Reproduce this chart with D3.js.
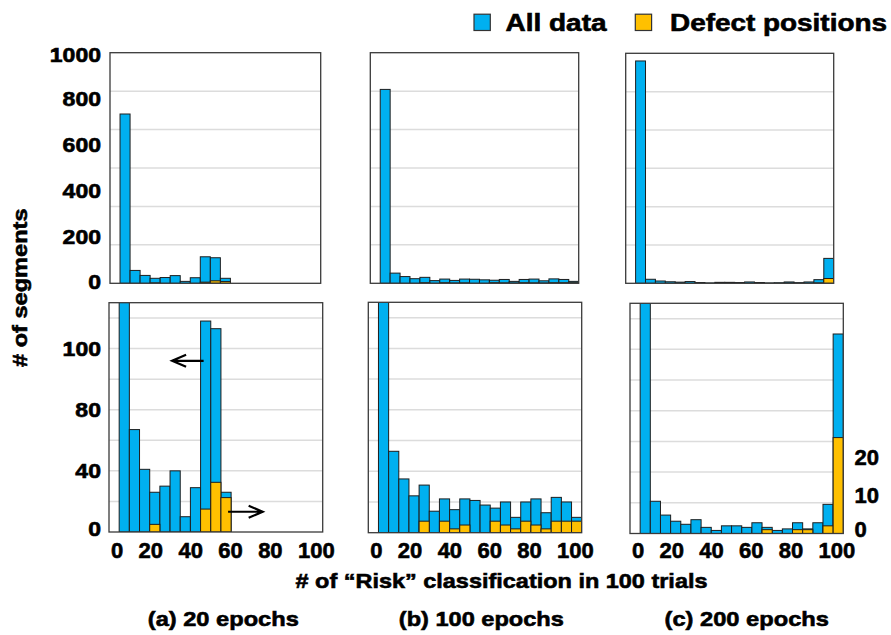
<!DOCTYPE html>
<html>
<head>
<meta charset="utf-8">
<script src="https://cdn.jsdelivr.net/npm/d3@7"></script>
<style>
  html, body { margin: 0; padding: 0; background: #fff; }
  svg { display: block; font-family: "Liberation Sans", Arial, sans-serif; font-weight: bold; }
  svg text { fill: #000; stroke: #000; stroke-width: 0.6px; }
</style>
</head>
<body>
<svg id="chart" width="891" height="635"></svg>
<script>
// 5-wide bins of the number of "Risk" classifications in 100 trials
const binStarts = d3.range(0, 100, 5);
const binWidth = 5;

// Segment counts per bin (all data) and defect positions per bin
const allData20   = [881, 67, 41, 26, 30, 40, 10, 29, 138, 133, 26, 0, 0, 0, 0, 0, 0, 0, 0, 0];
const defects20   = [0, 0, 0, 2, 0, 0, 0, 0, 6, 13, 9, 0, 0, 0, 0, 0, 0, 0, 0, 0];
const allData100  = [1009, 53, 35, 24, 31, 14, 22, 15, 22, 21, 18, 16, 20, 10, 20, 22, 13, 23, 20, 10];
const defects100  = [0, 0, 0, 0, 3, 0, 3, 1, 2, 0, 0, 3, 2, 1, 3, 2, 1, 3, 3, 3];
const allData200  = [1160, 21, 12, 8, 6, 9, 4, 2, 5, 5, 4, 7, 4, 2, 3, 7, 3, 7, 19, 130];
const defects200  = [0, 0, 0, 0, 0, 0, 0, 0, 0, 0, 0, 0, 1, 0, 0, 1, 1, 0, 2, 25];

const epochLabels = ["(a) 20 epochs", "(b) 100 epochs", "(c) 200 epochs"];
const seriesNames = ["All data", "Defect positions"];

// Axis tick labels
const xTickLabels = ["0", "20", "40", "60", "80", "100"];
const topTickLabels = ["0", "200", "400", "600", "800", "1000"];
const bottomTickValues = [0, 40, 80, 120];
const bottomTickLabels = ["0", "40", "80", "100"];
const defectTickValues = [0, 10, 20];

const BLUE = "#00b0f0", YELLOW = "#ffc000", EDGE = "#1e1e1e", GRID = "#dcdcdc";

const svg = d3.select("#chart");

// Panel frames: top row is the full range, bottom row is the zoomed view
const topFrames = [
  { x0: 110,   x1: 320.7, y0: 52.7, y1: 283.3 },
  { x0: 370.3, x1: 578.7, y0: 52.7, y1: 283.3 },
  { x0: 625.7, x1: 833.7, y0: 53.3, y1: 283.3 }
];
const bottomFrames = [
  { x0: 109,   x1: 322.7, y0: 302.7, y1: 532 },
  { x0: 368.3, x1: 581.7, y0: 302.3, y1: 532.7 },
  { x0: 630,   x1: 843.3, y0: 303.3, y1: 533.5 }
];

const columns = [
  { all: allData20,  def: defects20 },
  { all: allData100, def: defects100 },
  { all: allData200, def: defects200 }
];

function stretch(sel, factor) {
  sel.each(function () {
    const w = this.getComputedTextLength();
    d3.select(this).attr("textLength", w * factor).attr("lengthAdjust", "spacingAndGlyphs");
  });
}

function drawPanel(f, all, def, yAll, yDef, gridValues, key) {
  const x = d3.scaleLinear().domain([-binWidth, 100]).range([f.x0, f.x1]);
  const g = svg.append("g");

  const clipId = "clip-" + key;
  svg.append("clipPath").attr("id", clipId)
    .append("rect").attr("x", f.x0).attr("y", f.y0)
    .attr("width", f.x1 - f.x0).attr("height", f.y1 - f.y0);

  g.append("rect").attr("x", f.x0).attr("y", f.y0)
    .attr("width", f.x1 - f.x0).attr("height", f.y1 - f.y0).attr("fill", "#fff");

  g.selectAll("line.grid").data(gridValues).join("line")
    .attr("class", "grid")
    .attr("x1", f.x0).attr("x2", f.x1)
    .attr("y1", d => yAll(d)).attr("y2", d => yAll(d))
    .attr("stroke", GRID).attr("stroke-width", 1.5);

  const bars = g.append("g").attr("clip-path", `url(#${clipId})`);

  bars.selectAll("rect.all").data(binStarts).join("rect")
    .attr("class", "all")
    .attr("x", d => x(d))
    .attr("width", d => x(d + binWidth) - x(d))
    .attr("y", (d, i) => yAll(all[i]))
    .attr("height", (d, i) => yAll(0) - yAll(all[i]))
    .attr("fill", BLUE).attr("stroke", EDGE).attr("stroke-width", 1)
    .style("display", (d, i) => all[i] > 0 ? null : "none");

  bars.selectAll("rect.def").data(binStarts).join("rect")
    .attr("class", "def")
    .attr("x", d => x(d))
    .attr("width", d => x(d + binWidth) - x(d))
    .attr("y", (d, i) => yDef(def[i]))
    .attr("height", (d, i) => yDef(0) - yDef(def[i]))
    .attr("fill", YELLOW).attr("stroke", EDGE).attr("stroke-width", 1)
    .style("display", (d, i) => def[i] > 0 ? null : "none");

  g.append("rect").attr("x", f.x0).attr("y", f.y0)
    .attr("width", f.x1 - f.x0).attr("height", f.y1 - f.y0)
    .attr("fill", "none").attr("stroke", "#3a3a3a").attr("stroke-width", 1.3);

  return x;
}

const xScales = [];
let yBottomLeft = null, yDefBottom = null;

columns.forEach((c, i) => {
  // Top row: full count range
  const tf = topFrames[i];
  const yTop = d3.scaleLinear().domain([0, 1200]).range([tf.y1, tf.y0]);
  drawPanel(tf, c.all, c.def, yTop, yTop, d3.range(200, 1200, 200), "t" + i);

  // Bottom row: zoomed count range; defects on the secondary axis
  const bf = bottomFrames[i];
  const yB = d3.scaleLinear().domain([0, 150]).range([bf.y1, bf.y0]);
  const yD = d3.scaleLinear().domain([0, 60]).range([bf.y1, bf.y0]);
  const xB = drawPanel(bf, c.all, c.def, yB, yD, d3.range(20, 150, 20), "b" + i);
  xScales.push(xB);
  if (i === 0) { yBottomLeft = yB; yDefBottom = yD; }

  // x tick labels laid out evenly under each bottom panel
  const tg = svg.append("g");
  const texts = tg.selectAll("text").data(xTickLabels).join("text")
    .attr("font-size", 22).attr("y", 558.3).text(d => d);
  const widths = texts.nodes().map(n => n.getComputedTextLength());
  const start = bf.x0 + 2, end = bf.x1 + 12;
  const gap = (end - start - d3.sum(widths)) / (widths.length - 1);
  let cx = start;
  texts.each(function (d, k) { d3.select(this).attr("x", cx); cx += widths[k] + gap; });

  // Column caption
  const capX = [147.8, 398.8, 664.5][i];
  const capW = [151, 165, 164.5][i];
  svg.append("text").attr("x", capX).attr("y", 625.5).attr("font-size", 21)
    .attr("textLength", capW).attr("lengthAdjust", "spacingAndGlyphs")
    .text(epochLabels[i]);
});

// Left axis labels, top row
{
  const f = topFrames[0];
  const ly = d3.scaleLinear().domain([0, 1000]).range([f.y1, f.y0]);
  const fs = 19.5;
  const t = svg.append("g").selectAll("text").data(topTickLabels).join("text")
    .attr("x", 101).attr("text-anchor", "end").attr("font-size", fs)
    .attr("y", d => Math.min(Math.max(ly(+d), f.y0 + 2.3), f.y1 - 1.5) + fs * 0.358)
    .text(d => d);
  stretch(t, 1.18);
}

// Left axis labels, bottom row
{
  const f = bottomFrames[0];
  const fs = 19.5;
  const t = svg.append("g").selectAll("text").data(bottomTickValues).join("text")
    .attr("x", 101).attr("text-anchor", "end").attr("font-size", fs)
    .attr("y", d => Math.min(yBottomLeft(d), f.y1 - 3) + fs * 0.358)
    .text((d, i) => bottomTickLabels[i]);
  stretch(t, 1.18);
}

// Secondary axis labels (defect positions), right of the last bottom panel
{
  const f = bottomFrames[2];
  const yD = d3.scaleLinear().domain([0, 60]).range([f.y1, f.y0]);
  const fs = 22;
  svg.append("g").selectAll("text").data(defectTickValues).join("text")
    .attr("x", 854.5).attr("font-size", fs)
    .attr("y", d => Math.min(yD(d), f.y1 - 4) + fs * 0.358)
    .text(d => d);
}

// Arrows linking each series to its axis
{
  const x = xScales[0];
  const arrow = (xa, xb, y) => {
    const dir = xb > xa ? -1 : 1;
    return `M${xa},${y}L${xb},${y}M${xb + dir * 14},${y - 6}L${xb},${y}L${xb + dir * 14},${y + 6}`;
  };
  svg.append("path").attr("d", arrow(x(41.5), x(26), yBottomLeft(112)))
    .attr("fill", "none").attr("stroke", "#000").attr("stroke-width", 2.2);
  svg.append("path").attr("d", arrow(x(53.5), x(70.5), yDefBottom(5.3)))
    .attr("fill", "none").attr("stroke", "#000").attr("stroke-width", 2.2);
}

// Axis titles
svg.append("text").attr("x", 295.5).attr("y", 588).attr("font-size", 21)
  .attr("textLength", 412).attr("lengthAdjust", "spacingAndGlyphs")
  .text("# of \u201CRisk\u201D classification in 100 trials");

svg.append("text").attr("transform", "translate(26.5,367) rotate(-90)")
  .attr("font-size", 20).attr("textLength", 158.5).attr("lengthAdjust", "spacingAndGlyphs")
  .text("# of segments");

// Legend
{
  const items = [
    { name: seriesNames[0], color: BLUE,   sx: 474,   tx: 505.5, w: 101 },
    { name: seriesNames[1], color: YELLOW, sx: 635.3, tx: 670,   w: 217 }
  ];
  const lg = svg.append("g");
  items.forEach(it => {
    lg.append("rect").attr("x", it.sx).attr("y", 14.2).attr("width", 16.3).attr("height", 16.3)
      .attr("fill", it.color).attr("stroke", "#333").attr("stroke-width", 1.2);
    lg.append("text").attr("x", it.tx).attr("y", 30.7).attr("font-size", 23)
      .attr("textLength", it.w).attr("lengthAdjust", "spacingAndGlyphs").text(it.name);
  });
}
</script>
</body>
</html>
